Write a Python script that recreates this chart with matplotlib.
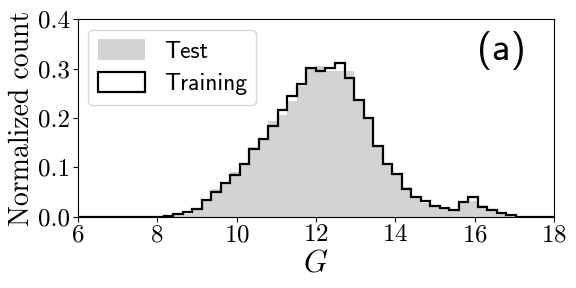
import numpy as np
import matplotlib
matplotlib.use("Agg")
import matplotlib.pyplot as plt
from matplotlib.patches import Patch

# bin edges for G (50 bins between 6 and 18)
g_min, g_max, n_bins = 6.0, 18.0, 50

# normalized counts per bin
test_counts = [0, 0, 0, 0, 0, 0, 0, 0, 0,
               0.001, 0.003, 0.006, 0.015, 0.034, 0.055, 0.069, 0.090, 0.107,
               0.141, 0.157, 0.193, 0.205, 0.234, 0.265, 0.299, 0.306, 0.295,
               0.296, 0.296, 0.237, 0.200, 0.145, 0.104, 0.089, 0.059, 0.040,
               0.027, 0.022, 0.016, 0.013, 0.030, 0.032, 0.023, 0.014, 0.008,
               0.003, 0, 0, 0, 0]
train_counts = [0, 0, 0, 0, 0, 0, 0, 0, 0,
                0.002, 0.0045, 0.0085, 0.015, 0.034, 0.050, 0.069, 0.085, 0.107,
                0.137, 0.157, 0.184, 0.216, 0.245, 0.269, 0.302, 0.295, 0.302,
                0.312, 0.280, 0.237, 0.200, 0.143, 0.107, 0.087, 0.056, 0.040,
                0.031, 0.021, 0.017, 0.013, 0.030, 0.040, 0.020, 0.013, 0.008,
                0.003, 0, 0, 0, 0]

plt.rcParams['font.family'] = 'cmr10'
plt.rcParams['mathtext.fontset'] = 'cm'
plt.rcParams['axes.formatter.use_mathtext'] = True

edges = np.linspace(g_min, g_max, n_bins + 1)

fig = plt.figure(figsize=(5.76, 2.88), dpi=100)
ax = fig.add_axes([0.135, 0.248, 0.827, 0.685])

ax.stairs(test_counts, edges, fill=True, color='lightgray')
ax.stairs(train_counts, edges, color='black', lw=1.6)

ax.set_xlim(6, 18)
ax.set_ylim(0, 0.4)
ax.set_xticks(np.arange(6, 19, 2))
ax.set_yticks(np.arange(0, 0.41, 0.1))
ax.set_yticklabels([f"{v:.1f}" for v in np.arange(0, 0.41, 0.1)])
ax.tick_params(labelsize=18, pad=2)

ax.set_xlabel('$G$', fontsize=22, labelpad=3)
ax.set_ylabel('Normalized count', fontsize=20, labelpad=2)

handles = [Patch(facecolor='lightgray', edgecolor='none', label='Test'),
           Patch(facecolor='white', edgecolor='black', lw=1.6, label='Training')]
ax.legend(handles=handles, loc='upper left', prop={'family': 'cmss10', 'size': 17},
          handlelength=2.0, handleheight=0.95, borderaxespad=0.45, labelspacing=0.4)
ax.text(0.94, 0.84, '(a)', transform=ax.transAxes, ha='right', va='center',
        fontsize=28, family='cmss10')

fig.savefig('out.png', dpi=100)
